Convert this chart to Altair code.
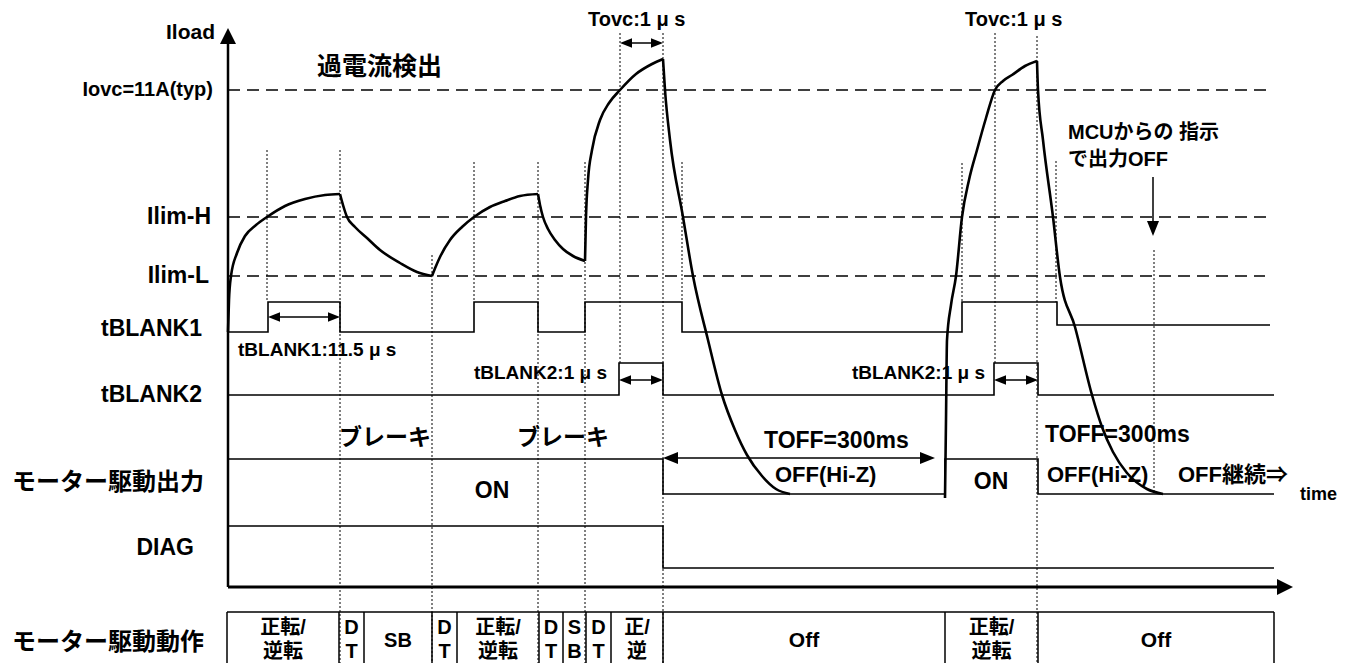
import altair as alt
import pandas as pd

FONT = "Liberation Sans, Noto Sans CJK JP, sans-serif"

# ---------------- data (diagram coordinates: time -> x, level -> y) ----------------
ORIGIN_X = 228
YAXIS_TOP = 28
XAXIS_Y = 587
XAXIS_END = 1293

# threshold levels (dashed)
LEVEL_Y = [90, 217, 276]
LEVEL_END = [1268, 1267, 1265]

# load-current waveform pieces
RISE1_T = [228, 229, 231, 237, 245, 256, 267, 285, 305, 325, 340]
RISE1_I = [332, 300, 276, 253, 236, 225, 217, 206, 199, 195, 194]
DECAY1_T = [340, 343, 347, 355, 367, 380, 400, 417, 432]
DECAY1_I = [194, 205, 217, 227, 238, 250, 263, 272, 276]
RISE2_T = [432, 436, 440, 450, 462, 474, 490, 505, 520, 538]
RISE2_I = [276, 266, 257, 240, 227, 217, 207, 201, 196, 194]
DECAY2_T = [538, 540, 543, 548, 555, 563, 573, 585]
DECAY2_I = [194, 205, 217, 229, 240, 249, 256, 261]
RISE3_T = [585, 586, 588, 592, 600, 609, 620, 636, 652, 663]
RISE3_I = [261, 217, 180, 150, 120, 103, 90, 74, 64, 59]
FALL1_T = [663, 665, 670, 683, 693, 708, 722, 735, 747, 762, 776, 790]
FALL1_I = [59, 90, 140, 217, 276, 340, 395, 430, 455, 476, 489, 494]
RISE4_T = [945, 946, 947, 951, 956, 962, 969, 977, 986, 995, 1003, 1012, 1025, 1037]
RISE4_I = [498, 420, 340, 305, 276, 217, 180, 150, 118, 90, 81, 75, 66, 61]
FALL2_T = [1037, 1038, 1043, 1053, 1060, 1075, 1092, 1102, 1113, 1127, 1147, 1163]
FALL2_I = [61, 90, 140, 217, 277, 327, 395, 427, 452, 473, 489, 494]

# digital signals (step traces)
TB1_T = [228, 268, 268, 340, 340, 474, 474, 538, 538, 585, 585, 682, 682, 962, 962, 1057, 1057, 1270]
TB1_V = [332, 332, 302, 302, 332, 332, 302, 302, 332, 332, 302, 302, 332, 332, 302, 302, 325, 325]
TB2_T = [228, 619, 619, 663, 663, 994, 994, 1038, 1038, 1274]
TB2_V = [395, 395, 363, 363, 395, 395, 363, 363, 395, 395]
MOT_T = [228, 663, 663, 945, 945, 1038, 1038, 1274]
MOT_V = [459, 459, 494, 494, 459, 459, 494, 494]
DIAG_T = [228, 663, 663, 1274]
DIAG_V = [526, 526, 568, 568]

# dotted timing markers
MARK_T = [267, 340, 432, 474, 538, 585, 620, 663, 682, 962, 995, 1037, 1056, 1154]
MARK_TOP = [150, 150, 255, 162, 162, 162, 33, 33, 162, 163, 33, 36, 161, 250]
MARK_BOT = [302, 671, 671, 302, 671, 671, 363, 671, 302, 302, 363, 671, 302, 494]

# double-headed interval arrows
ARR_X1 = [268, 620, 619, 994, 663]
ARR_X2 = [340, 663, 663, 1038, 935]
ARR_Y = [317, 43, 380, 380, 458]
ARR_HEAD = [12, 12, 12, 12, 15]

# MCU down arrow
MCU_X = 1153
MCU_Y1 = 177
MCU_Y2 = 236

# operation table
TABLE_TOP = 612
TABLE_BOT = 671
TABLE_COLS = [227, 339, 364, 432, 457, 539, 563, 586, 611, 663, 945, 1038, 1274]
CELL_TOP = ["正転/", "D", "SB", "D", "正転/", "D", "S", "D", "正/", "Off", "正転/", "Off"]
CELL_BOT = ["逆転", "T", "", "T", "逆転", "T", "B", "T", "逆", "", "逆転", ""]
CELL_SIZE = [20, 20, 20, 20, 20, 20, 20, 20, 20, 21, 20, 21]

# labels
LEFT_TXT = ["過電流検出", "Tovc:1 μ s", "Tovc:1 μ s", "tBLANK1:11.5 μ s", "ブレーキ", "ブレーキ",
            "TOFF=300ms", "OFF(Hi-Z)", "TOFF=300ms", "OFF(Hi-Z)", "OFF継続⇒", "time",
            "MCUからの 指示", "で出力OFF"]
LEFT_X = [317, 588, 965, 238, 339, 517, 764, 775, 1045, 1047, 1178, 1300, 1068, 1068]
LEFT_Y = [67, 20, 20, 350, 438, 438, 441, 475, 435, 475, 475, 495, 133, 160]
LEFT_FS = [25, 20, 20, 19, 23, 23, 23, 22, 23, 22, 22, 18, 20, 20]

RIGHT_TXT = ["Iload", "Iovc=11A(typ)", "Ilim-H", "Ilim-L", "tBLANK1", "tBLANK2",
             "モーター駆動出力", "DIAG", "モーター駆動動作", "tBLANK2:1 μ s", "tBLANK2:1 μ s"]
RIGHT_X = [215, 213, 211, 209, 202, 202, 204, 194, 204, 607, 985]
RIGHT_Y = [33, 90, 217, 276, 329, 395, 483, 548, 643, 373, 373]
RIGHT_FS = [21, 20, 23, 23, 23, 23, 24, 23, 24, 19, 19]

CENTER_TXT = ["ON", "ON"]
CENTER_X = [492, 991]
CENTER_Y = [491, 482]
CENTER_FS = [23, 23]

# ---------------- tables ----------------
def poly(pieces):
    rows = []
    for name, ts, vs in pieces:
        for i, (t, v) in enumerate(zip(ts, vs)):
            rows.append({"s": name, "i": i, "x": t, "y": v})
    return pd.DataFrame(rows)

cur_df = poly([("r1", RISE1_T, RISE1_I), ("d1", DECAY1_T, DECAY1_I),
               ("r2", RISE2_T, RISE2_I), ("d2", DECAY2_T, DECAY2_I),
               ("r3", RISE3_T, RISE3_I), ("f1", FALL1_T, FALL1_I),
               ("r4", RISE4_T, RISE4_I), ("f2", FALL2_T, FALL2_I)])
step_df = poly([("tb1", TB1_T, TB1_V), ("tb2", TB2_T, TB2_V),
                ("mot", MOT_T, MOT_V), ("diag", DIAG_T, DIAG_V)])

dash_df = pd.DataFrame({"x": [ORIGIN_X] * len(LEVEL_Y), "x2": LEVEL_END, "y": LEVEL_Y})
dot_df = pd.DataFrame({"x": MARK_T, "y": MARK_TOP, "y2": MARK_BOT})

solid = []
solid.append({"x": ORIGIN_X, "y": YAXIS_TOP + 12, "x2": ORIGIN_X, "y2": XAXIS_Y, "w": 2.5})
solid.append({"x": ORIGIN_X, "y": XAXIS_Y, "x2": XAXIS_END - 12, "y2": XAXIS_Y, "w": 3})
for a, b, yy in zip(ARR_X1, ARR_X2, ARR_Y):
    solid.append({"x": a + 3, "y": yy, "x2": b - 3, "y2": yy, "w": 1.5})
solid.append({"x": MCU_X, "y": MCU_Y1, "x2": MCU_X, "y2": MCU_Y2 - 8, "w": 1.5})
solid.append({"x": TABLE_COLS[0], "y": TABLE_TOP, "x2": TABLE_COLS[-1], "y2": TABLE_TOP, "w": 1.5})
for c in TABLE_COLS:
    solid.append({"x": c, "y": TABLE_TOP, "x2": c, "y2": TABLE_BOT, "w": 1.5})
solid_df = pd.DataFrame(solid)

heads = []
for a, b, yy, L in zip(ARR_X1, ARR_X2, ARR_Y, ARR_HEAD):
    heads.append({"x": a + L / 2, "y": yy, "a": 180, "sz": L * L})
    heads.append({"x": b - L / 2, "y": yy, "a": 0, "sz": L * L})
heads.append({"x": MCU_X, "y": MCU_Y2 - 7.5, "a": 90, "sz": 15 * 15})
heads_df = pd.DataFrame(heads)

axhead_df = pd.DataFrame([
    {"x": ORIGIN_X, "y": YAXIS_TOP + 8, "a": 270, "sz": 16 * 16},
    {"x": XAXIS_END - 8, "y": XAXIS_Y, "a": 0, "sz": 16 * 16},
])

cells = []
for k in range(len(CELL_TOP)):
    cx = (TABLE_COLS[k] + TABLE_COLS[k + 1]) / 2
    if CELL_BOT[k]:
        cells.append({"t": CELL_TOP[k], "x": cx, "y": 628, "fs": CELL_SIZE[k]})
        cells.append({"t": CELL_BOT[k], "x": cx, "y": 652, "fs": CELL_SIZE[k]})
    else:
        cells.append({"t": CELL_TOP[k], "x": cx, "y": 641, "fs": CELL_SIZE[k]})
center_df = pd.concat([
    pd.DataFrame({"t": CENTER_TXT, "x": CENTER_X, "y": CENTER_Y, "fs": CENTER_FS}),
    pd.DataFrame(cells)], ignore_index=True)
left_df = pd.DataFrame({"t": LEFT_TXT, "x": LEFT_X, "y": LEFT_Y, "fs": LEFT_FS})
right_df = pd.DataFrame({"t": RIGHT_TXT, "x": RIGHT_X, "y": RIGHT_Y, "fs": RIGHT_FS})

# ---------------- encodings ----------------
XS = alt.Scale(domain=[8, 1344], nice=False, zero=False)
YS = alt.Scale(domain=[8, 663], nice=False, zero=False, reverse=True)
ex = alt.X("x:Q", scale=XS, axis=None)
ey = alt.Y("y:Q", scale=YS, axis=None)

dashed = alt.Chart(dash_df).mark_rule(strokeDash=[12, 7], strokeWidth=1.5, color="black").encode(
    x=ex, x2="x2:Q", y=ey)
dotted = alt.Chart(dot_df).mark_rule(strokeDash=[2, 2], strokeWidth=1, color="black").encode(
    x=ex, y=ey, y2="y2:Q")
solids = alt.Chart(solid_df).mark_rule(color="black").encode(
    x=ex, y=ey, x2="x2:Q", y2="y2:Q", strokeWidth=alt.StrokeWidth("w:Q", scale=None))
steps = alt.Chart(step_df).mark_line(strokeWidth=1.6, color="black").encode(
    x=ex, y=ey, detail="s:N", order="i:Q")
current = alt.Chart(cur_df).mark_line(interpolate="monotone", strokeWidth=2.6, color="black").encode(
    x=ex, y=ey, detail="s:N", order="i:Q")
arrowheads = alt.Chart(heads_df).mark_point(
    shape="M1,0L-1,-0.8L-1,0.8Z", filled=True, opacity=1, color="black", strokeWidth=0).encode(
    x=ex, y=ey, angle=alt.Angle("a:Q", scale=None), size=alt.Size("sz:Q", scale=None))
axisheads = alt.Chart(axhead_df).mark_point(
    shape="M1,0L-1,-1L-1,1Z", filled=True, opacity=1, color="black", strokeWidth=0).encode(
    x=ex, y=ey, angle=alt.Angle("a:Q", scale=None), size=alt.Size("sz:Q", scale=None))


def texts(df, align):
    return alt.Chart(df).mark_text(font=FONT, fontWeight="bold", align=align, baseline="middle",
                                   color="black").encode(
        x=ex, y=ey, text="t:N", size=alt.Size("fs:Q", scale=None))


chart = alt.layer(
    dashed, dotted, solids, steps, current, arrowheads, axisheads,
    texts(left_df, "left"), texts(right_df, "right"), texts(center_df, "center"),
).properties(
    width=1336, height=655,
    autosize=alt.AutoSizeParams(type="none"),
    padding={"left": 0, "top": 0, "right": 0, "bottom": 0},
).configure_view(stroke=None)

chart.save("out.html", embed_options={"renderer": "svg", "actions": False})
